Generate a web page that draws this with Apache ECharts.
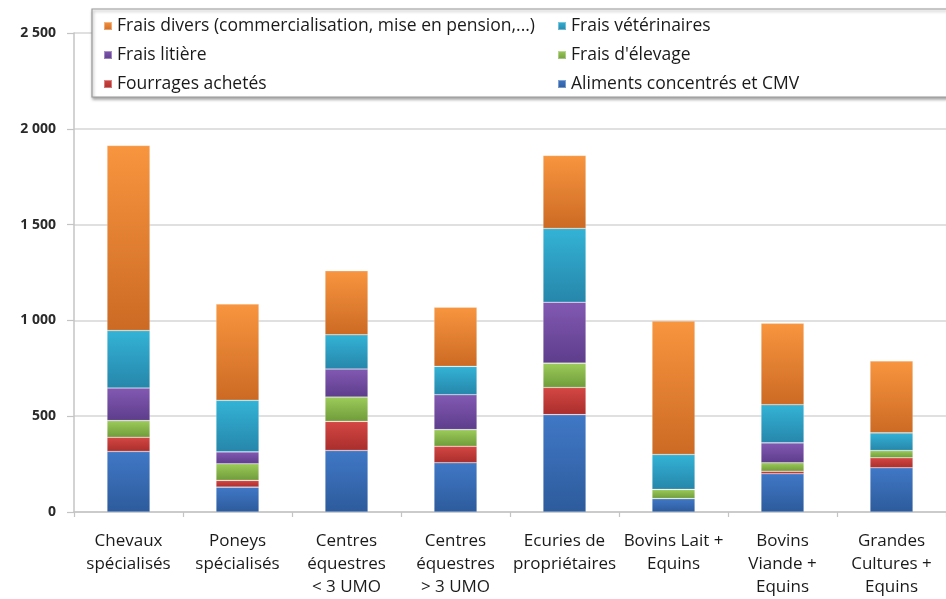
<!DOCTYPE html>
<html>
<head>
<meta charset="utf-8">
<script src="https://cdn.jsdelivr.net/npm/echarts@6/dist/echarts.min.js"></script>
<style>
html,body{margin:0;padding:0;background:#fff;}
#chart{width:946px;height:599px;}
</style>
</head>
<body>
<div id="chart"></div>
<script>
// ---- data ----
const categories = [
  "Chevaux\nspécialisés",
  "Poneys\nspécialisés",
  "Centres\néquestres\n< 3 UMO",
  "Centres\néquestres\n> 3 UMO",
  "Ecuries de\npropriétaires",
  "Bovins Lait +\nEquins",
  "Bovins\nViande +\nEquins",
  "Grandes\nCultures +\nEquins"
];
const alimentsConcentres = [316, 130, 321, 257, 508, 70, 200, 231];
const fourragesAchetes   = [74, 35, 152, 86, 142, 0, 13, 52];
const fraisElevage       = [87, 87, 127, 87, 127, 48, 44, 38];
const fraisLitiere       = [170, 62, 146, 182, 318, 0, 104, 0];
const fraisVeterinaires  = [300, 269, 179, 148, 385, 182, 199, 92];
const fraisDivers        = [966, 503, 334, 309, 381, 697, 425, 376];
const yTicks = [0, 500, 1000, 1500, 2000, 2500];

const seriesNames = {
  aliments: "Aliments concentrés et CMV",
  fourrages: "Fourrages achetés",
  elevage: "Frais d'élevage",
  litiere: "Frais litière",
  vet: "Frais vétérinaires",
  divers: "Frais divers (commercialisation, mise en pension,...)"
};

function grad(top, bottom) {
  return new echarts.graphic.LinearGradient(0, 0, 0, 1, [
    {offset: 0, color: top},
    {offset: 1, color: bottom}
  ]);
}
const FONT = "Open Sans";

function mk(name, data, c1, c2) {
  return {
    name: name, type: "bar", stack: "total", data: data, barWidth: 43,
    itemStyle: {color: grad(c1, c2), borderColor: "rgba(255,255,255,0.35)", borderWidth: 0.6},
    emphasis: {disabled: true}
  };
}

const legendText = {fontFamily: FONT, fontSize: 17.5, color: "#1a1a1a", lineHeight: 20};

const chart = echarts.init(document.getElementById("chart"), null, {renderer: "canvas"});
chart.setOption({
  animation: false,
  backgroundColor: "#ffffff",
  textStyle: {fontFamily: FONT},
  grid: {left: 74, top: 33, width: 880, height: 480, containLabel: false},
  graphic: [{
    type: "rect", z: 3,
    shape: {x: 92, y: 9, width: 880, height: 88},
    style: {fill: "#ffffff", stroke: "#9a9a9a", lineWidth: 1.2,
            shadowBlur: 3, shadowOffsetX: 1, shadowOffsetY: 2, shadowColor: "rgba(0,0,0,0.35)"}
  }],
  legend: [{
    orient: "vertical", left: 98, top: 11, z: 5,
    itemWidth: 8, itemHeight: 8, icon: "rect", itemGap: 9,
    selectedMode: false,
    textStyle: legendText,
    data: [seriesNames.divers, seriesNames.litiere, seriesNames.fourrages]
  }, {
    orient: "vertical", left: 552, top: 11, z: 5,
    itemWidth: 8, itemHeight: 8, icon: "rect", itemGap: 9,
    selectedMode: false,
    textStyle: legendText,
    data: [seriesNames.vet, seriesNames.elevage, seriesNames.aliments]
  }],
  xAxis: {
    type: "category", data: categories, boundaryGap: true,
    axisLine: {show: true, lineStyle: {color: "#c4c4c4", width: 1.5}},
    axisTick: {show: true, alignWithLabel: false, length: 5, lineStyle: {color: "#c4c4c4", width: 1.2}},
    axisLabel: {interval: 0, margin: 18, fontFamily: FONT, fontSize: 17, color: "#1a1a1a", lineHeight: 23, align: "center", verticalAlign: "top"}
  },
  yAxis: {
    type: "value", min: yTicks[0], max: yTicks[yTicks.length - 1], interval: 500,
    axisLine: {show: true, lineStyle: {color: "#c4c4c4", width: 1.5}},
    axisTick: {show: true, length: 7, lineStyle: {color: "#c4c4c4", width: 1.2}},
    splitLine: {show: true, lineStyle: {color: "#d6d6d6", width: 1.5}},
    axisLabel: {
      margin: 18, fontFamily: FONT, fontSize: 14, fontWeight: "bold", color: "#2a2a2a",
      formatter: function (v) { return v >= 1000 ? Math.floor(v / 1000) + " " + String(v % 1000).padStart(3, "0") : String(v); }
    }
  },
  series: [
    mk(seriesNames.aliments, alimentsConcentres, "#4078c6", "#2d5b9c"),
    mk(seriesNames.fourrages, fourragesAchetes, "#d44744", "#a92e2c"),
    mk(seriesNames.elevage, fraisElevage, "#9dcb5a", "#6f9c3a"),
    mk(seriesNames.litiere, fraisLitiere, "#8259b2", "#5e3d8c"),
    mk(seriesNames.vet, fraisVeterinaires, "#33b3d6", "#2686aa"),
    mk(seriesNames.divers, fraisDivers, "#f8953f", "#cc6a24")
  ]
});
</script>
</body>
</html>
